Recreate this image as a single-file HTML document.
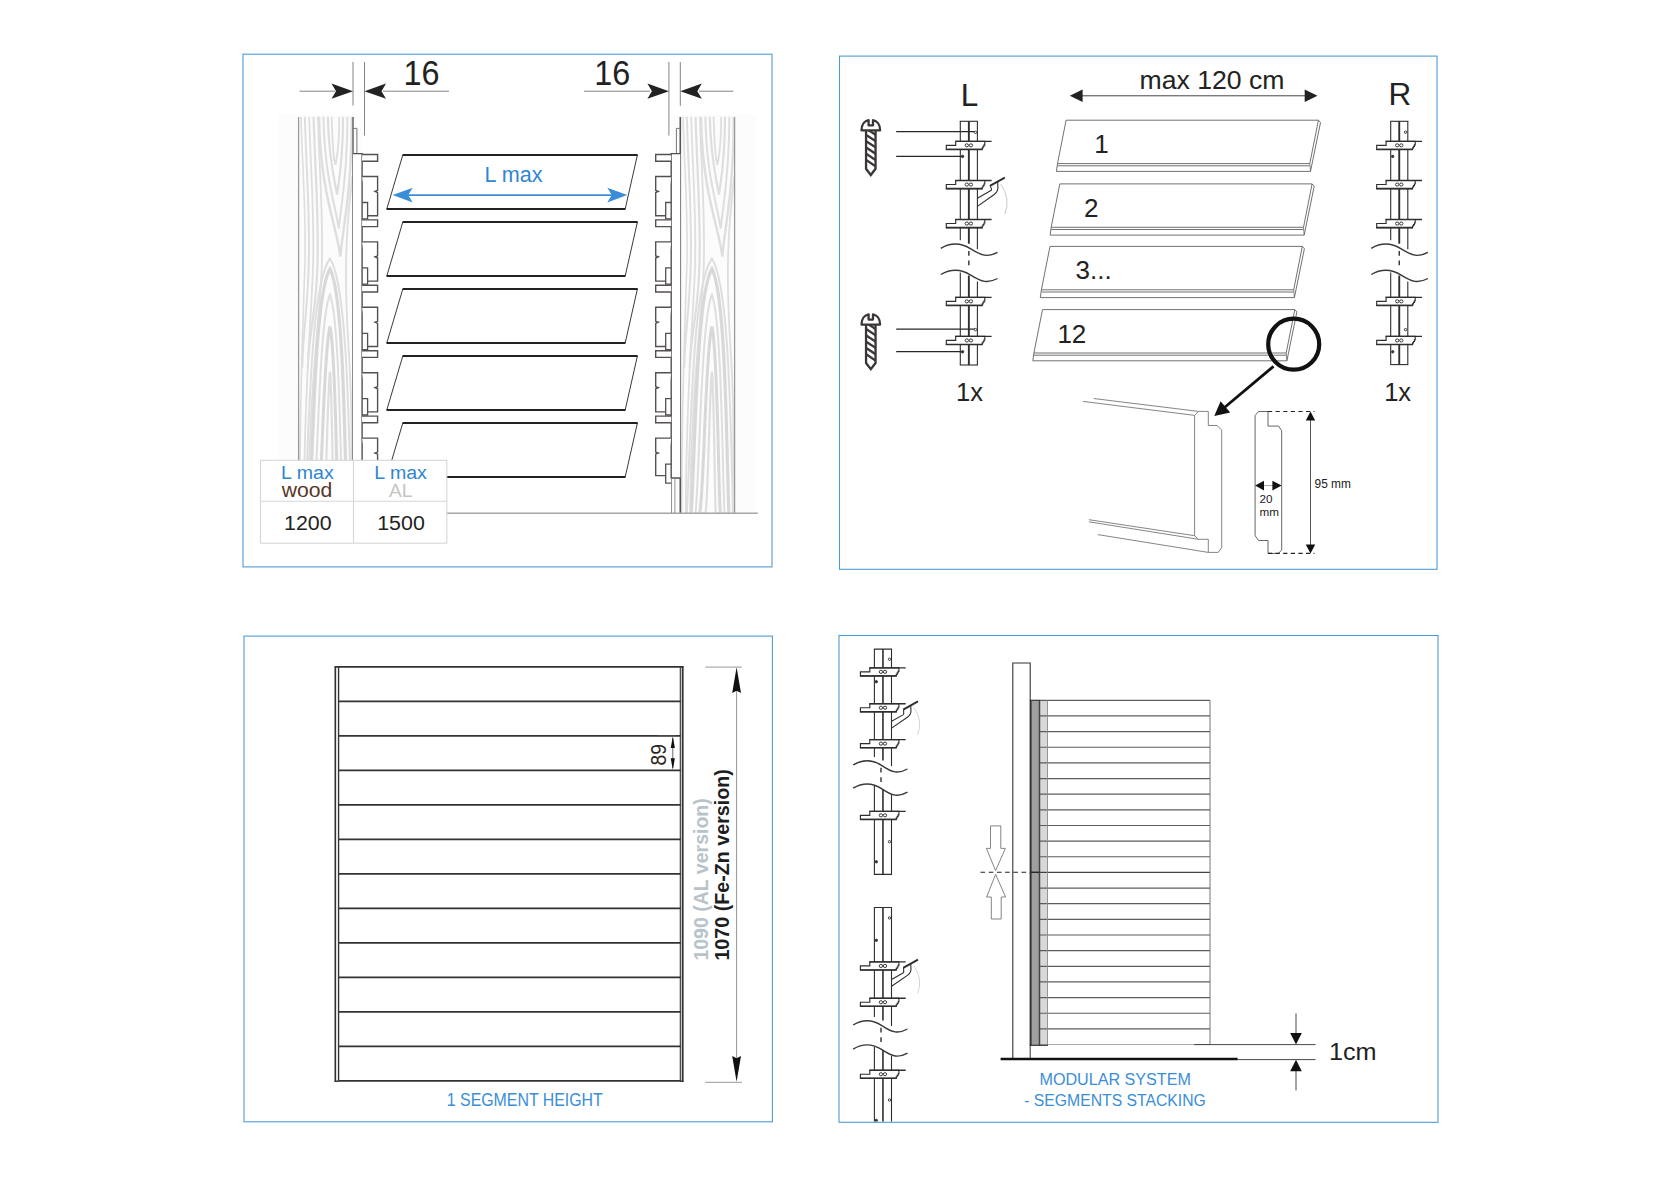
<!DOCTYPE html>
<html><head><meta charset="utf-8"><title>Assembly drawing</title>
<style>
html,body{margin:0;padding:0;background:#fff;}
body{width:1680px;height:1188px;overflow:hidden;}
svg{display:block;font-family:"Liberation Sans",sans-serif;}
</style></head><body>
<svg width="1680" height="1188" viewBox="0 0 1680 1188">
<rect width="1680" height="1188" fill="#fff"/>
<rect x="243" y="54.2" width="529" height="512.7" fill="#fff" stroke="#4e99d4" stroke-width="1.08" />
<rect x="839.5" y="56.1" width="597.5" height="513.2" fill="#fff" stroke="#4e99d4" stroke-width="1.08" />
<rect x="244" y="636.1" width="528.4" height="485.7" fill="#fff" stroke="#4e99d4" stroke-width="1.08" />
<rect x="839" y="635.5" width="599" height="486.8" fill="#fff" stroke="#4e99d4" stroke-width="1.08" />
<g id="p1">
<rect x="278.3" y="114.7" width="83.6" height="398.3" fill="#fcfcfc" stroke="none" stroke-width="0" />
<clipPath id="wc298"><rect x="298.3" y="116.7" width="54.6" height="396.3"/></clipPath>
<g clip-path="url(#wc298)" fill="none" stroke-linecap="round">
<path d="M301.03,116.7 C302.67,176.7 306.49,216.7 304.85,266.7 S299.8,386.7 299.67,513" stroke="#dedede" stroke-width="1.6"/>
<path d="M304.85,116.7 C306.49,176.7 310.31,216.7 308.67,266.7 S302.89,331.7 302.36,366.7" stroke="#dedede" stroke-width="2.0"/>
<path d="M309.22,116.7 C310.86,176.7 314.68,216.7 313.04,266.7 S304.31,386.7 303.76,513" stroke="#dedede" stroke-width="1.8"/>
<path d="M313.59,116.7 C315.23,176.7 319.05,216.7 317.41,266.7 S309,331.7 307.78,366.7" stroke="#dedede" stroke-width="2.2"/>
<path d="M317.96,116.7 C319.59,176.7 323.42,216.7 321.78,266.7 S309.11,386.7 308.13,513" stroke="#dedede" stroke-width="1.8"/>
<path d="M331.61,116.7 C332.7,143.1 332.7,155.1 335.43,164.7 C337.61,155.1 339.25,143.1 339.25,116.7" stroke="#dedede" stroke-width="1.8"/>
<path d="M327.78,116.7 C328.88,159.6 334.34,179.1 337.07,194.7 C339.25,179.1 343.07,159.6 343.07,116.7" stroke="#dedede" stroke-width="2.2"/>
<path d="M323.42,116.7 C324.51,178.3 335.97,206.3 338.7,228.7 C340.89,206.3 347.44,178.3 347.44,116.7" stroke="#dedede" stroke-width="2.0"/>
<path d="M319.05,116.7 C320.14,193.7 337.61,228.7 340.34,256.7 C342.53,228.7 351.81,193.7 351.81,116.7" stroke="#dedede" stroke-width="2.4"/>
<path d="M352.35,176.7 C345.26,236.7 344.16,276.7 348.53,346.7 S351.26,446.7 350.72,513" stroke="#dedede" stroke-width="1.8"/>
<path d="M304.85,513 C309.22,428.7 310.31,284.7 329.97,258.7 C347.66,284.7 348.64,428.7 351.26,513" stroke="#dedede" stroke-width="2.0"/>
<path d="M309.22,513 C313.59,438.7 314.68,294.7 329.97,268.7 C343.73,294.7 344.49,438.7 346.89,513" stroke="#d8d8d8" stroke-width="3.2"/>
<path d="M313.59,513 C317.96,464.7 319.05,320.7 329.97,294.7 C339.8,320.7 340.34,464.7 342.53,513" stroke="#dedede" stroke-width="2.0"/>
<path d="M317.68,513 C322.05,496.7 323.14,352.7 329.97,326.7 C336.11,352.7 336.45,496.7 338.43,513" stroke="#d8d8d8" stroke-width="3.0"/>
<path d="M321.5,513 C325.87,541.7 326.96,397.7 329.97,371.7 C332.67,397.7 332.82,541.7 334.61,513" stroke="#dedede" stroke-width="2.2"/>
</g>
<rect x="671.3" y="114.7" width="84.5" height="398.3" fill="#fcfcfc" stroke="none" stroke-width="0" />
<clipPath id="wc680"><rect x="680.3" y="116.7" width="54.5" height="396.3"/></clipPath>
<g clip-path="url(#wc680)" fill="none" stroke-linecap="round">
<path d="M683.02,116.7 C684.66,176.7 688.47,216.7 686.84,266.7 S681.8,386.7 681.66,513" stroke="#dedede" stroke-width="1.6"/>
<path d="M686.84,116.7 C688.47,176.7 692.29,216.7 690.65,266.7 S684.88,331.7 684.35,366.7" stroke="#dedede" stroke-width="2.0"/>
<path d="M691.2,116.7 C692.83,176.7 696.65,216.7 695.01,266.7 S686.29,386.7 685.75,513" stroke="#dedede" stroke-width="1.8"/>
<path d="M695.56,116.7 C697.19,176.7 701.01,216.7 699.38,266.7 S690.98,331.7 689.76,366.7" stroke="#dedede" stroke-width="2.2"/>
<path d="M699.92,116.7 C701.55,176.7 705.37,216.7 703.73,266.7 S691.09,386.7 690.11,513" stroke="#dedede" stroke-width="1.8"/>
<path d="M713.54,116.7 C714.63,143.1 714.63,155.1 717.36,164.7 C719.54,155.1 721.17,143.1 721.17,116.7" stroke="#dedede" stroke-width="1.8"/>
<path d="M709.73,116.7 C710.82,159.6 716.27,179.1 719,194.7 C721.17,179.1 724.99,159.6 724.99,116.7" stroke="#dedede" stroke-width="2.2"/>
<path d="M705.37,116.7 C706.46,178.3 717.9,206.3 720.63,228.7 C722.81,206.3 729.35,178.3 729.35,116.7" stroke="#dedede" stroke-width="2.0"/>
<path d="M701.01,116.7 C702.1,193.7 719.54,228.7 722.26,256.7 C724.44,228.7 733.71,193.7 733.71,116.7" stroke="#dedede" stroke-width="2.4"/>
<path d="M734.25,176.7 C727.17,236.7 726.08,276.7 730.44,346.7 S733.16,446.7 732.62,513" stroke="#dedede" stroke-width="1.8"/>
<path d="M686.84,513 C691.2,428.7 692.29,284.7 711.91,258.7 C729.57,284.7 730.55,428.7 733.16,513" stroke="#dedede" stroke-width="2.0"/>
<path d="M691.2,513 C695.56,438.7 696.65,294.7 711.91,268.7 C725.64,294.7 726.41,438.7 728.8,513" stroke="#d8d8d8" stroke-width="3.2"/>
<path d="M695.56,513 C699.92,464.7 701.01,320.7 711.91,294.7 C721.72,320.7 722.26,464.7 724.44,513" stroke="#dedede" stroke-width="2.0"/>
<path d="M699.65,513 C704.01,496.7 705.1,352.7 711.91,326.7 C718.04,352.7 718.38,496.7 720.36,513" stroke="#d8d8d8" stroke-width="3.0"/>
<path d="M703.46,513 C707.82,541.7 708.91,397.7 711.91,371.7 C714.61,397.7 714.76,541.7 716.54,513" stroke="#dedede" stroke-width="2.2"/>
</g>
<line x1="298.6" y1="117" x2="298.6" y2="513" stroke="#9a9a9a" stroke-width="1.3" />
<line x1="353" y1="117" x2="353" y2="513" stroke="#666" stroke-width="1.5" />
<line x1="680.3" y1="117" x2="680.3" y2="513" stroke="#555" stroke-width="1.6" />
<line x1="734.6" y1="117" x2="734.6" y2="513" stroke="#9a9a9a" stroke-width="1.3" />
<line x1="446.8" y1="513.2" x2="757.8" y2="513.2" stroke="#a6a6a6" stroke-width="1.5" />
<line x1="353" y1="62" x2="353" y2="105.5" stroke="#777" stroke-width="0.9" />
<line x1="364.5" y1="62" x2="364.5" y2="135.6" stroke="#777" stroke-width="0.9" />
<line x1="668.9" y1="62" x2="668.9" y2="135.6" stroke="#777" stroke-width="0.9" />
<line x1="680.3" y1="62" x2="680.3" y2="105.8" stroke="#777" stroke-width="0.9" />
<line x1="299.5" y1="91.2" x2="335" y2="91.2" stroke="#777" stroke-width="0.9" />
<line x1="383" y1="91.2" x2="449" y2="91.2" stroke="#777" stroke-width="0.9" />
<line x1="584" y1="91.2" x2="650" y2="91.2" stroke="#777" stroke-width="0.9" />
<line x1="699" y1="91.2" x2="733.3" y2="91.2" stroke="#777" stroke-width="0.9" />
<polygon points="353,91.2 331.5,83.6 336,91.2 331.5,98.8" fill="#222" stroke="none" stroke-width="0" />
<polygon points="364.5,91.2 386,83.6 381.5,91.2 386,98.8" fill="#222" stroke="none" stroke-width="0" />
<polygon points="668.9,91.2 647.4,83.6 651.9,91.2 647.4,98.8" fill="#222" stroke="none" stroke-width="0" />
<polygon points="680.3,91.2 701.8,83.6 697.3,91.2 701.8,98.8" fill="#222" stroke="none" stroke-width="0" />
<text x="403.5" y="85.2" font-size="35" fill="#222" textLength="36" lengthAdjust="spacingAndGlyphs" >16</text>
<text x="594.3" y="85.2" font-size="35" fill="#222" textLength="36" lengthAdjust="spacingAndGlyphs" >16</text>
<path d="M353,128.4 H356.9 V153.6" fill="none" stroke="#777" stroke-width="1" />
<path d="M353,153.6 H362.1 V478 H353" fill="#fff" stroke="#555050" stroke-width="1.4" />
<path d="M358.4,478 V513 M361.8,478 V513" fill="none" stroke="#888" stroke-width="0.9" />
<path d="M362.1,154.5 H377.6 V161.2 H362.1" fill="#fff" stroke="#555050" stroke-width="1.4" />
<path d="M362.1,176.5 H377.6 V190.5 l-2.6,0.9 l2.6,1.2 V215.7 H367.6" fill="#fff" stroke="#555050" stroke-width="1.4" />
<path d="M362.1,202.5 H367.6 V218.8 H362.1" fill="none" stroke="#555050" stroke-width="1.3" />
<path d="M362.1,219.9 H377.6 V226.6 H362.1" fill="#fff" stroke="#555050" stroke-width="1.4" />
<path d="M362.1,241.9 H377.6 V255.9 l-2.6,0.9 l2.6,1.2 V281.1 H367.6" fill="#fff" stroke="#555050" stroke-width="1.4" />
<path d="M362.1,267.9 H367.6 V284.2 H362.1" fill="none" stroke="#555050" stroke-width="1.3" />
<path d="M362.1,285.3 H377.6 V292 H362.1" fill="#fff" stroke="#555050" stroke-width="1.4" />
<path d="M362.1,307.3 H377.6 V321.3 l-2.6,0.9 l2.6,1.2 V346.5 H367.6" fill="#fff" stroke="#555050" stroke-width="1.4" />
<path d="M362.1,333.3 H367.6 V349.6 H362.1" fill="none" stroke="#555050" stroke-width="1.3" />
<path d="M362.1,350.7 H377.6 V357.4 H362.1" fill="#fff" stroke="#555050" stroke-width="1.4" />
<path d="M362.1,372.7 H377.6 V386.7 l-2.6,0.9 l2.6,1.2 V411.9 H367.6" fill="#fff" stroke="#555050" stroke-width="1.4" />
<path d="M362.1,398.7 H367.6 V415 H362.1" fill="none" stroke="#555050" stroke-width="1.3" />
<path d="M362.1,416.1 H377.6 V422.8 H362.1" fill="#fff" stroke="#555050" stroke-width="1.4" />
<path d="M362.1,438.1 H377.6 V452.1 l-2.6,0.9 l2.6,1.2 V475.6 H367.6" fill="#fff" stroke="#555050" stroke-width="1.4" />
<path d="M362.1,464.1 H367.6 V483.1 H362.1" fill="none" stroke="#555050" stroke-width="1.3" />
<path d="M680.3,128.4 H676.4 V153.6" fill="none" stroke="#777" stroke-width="1" />
<path d="M680.3,153.6 H671.2 V478 H680.3" fill="#fff" stroke="#555050" stroke-width="1.4" />
<path d="M674.9,478 V513 M671.5,478 V513" fill="none" stroke="#888" stroke-width="0.9" />
<path d="M671.2,154.5 H655.7 V161.2 H671.2" fill="#fff" stroke="#555050" stroke-width="1.4" />
<path d="M671.2,176.5 H655.7 V190.5 l2.6,0.9 l-2.6,1.2 V215.7 H665.7" fill="#fff" stroke="#555050" stroke-width="1.4" />
<path d="M671.2,202.5 H665.7 V218.8 H671.2" fill="none" stroke="#555050" stroke-width="1.3" />
<path d="M671.2,219.9 H655.7 V226.6 H671.2" fill="#fff" stroke="#555050" stroke-width="1.4" />
<path d="M671.2,241.9 H655.7 V255.9 l2.6,0.9 l-2.6,1.2 V281.1 H665.7" fill="#fff" stroke="#555050" stroke-width="1.4" />
<path d="M671.2,267.9 H665.7 V284.2 H671.2" fill="none" stroke="#555050" stroke-width="1.3" />
<path d="M671.2,285.3 H655.7 V292 H671.2" fill="#fff" stroke="#555050" stroke-width="1.4" />
<path d="M671.2,307.3 H655.7 V321.3 l2.6,0.9 l-2.6,1.2 V346.5 H665.7" fill="#fff" stroke="#555050" stroke-width="1.4" />
<path d="M671.2,333.3 H665.7 V349.6 H671.2" fill="none" stroke="#555050" stroke-width="1.3" />
<path d="M671.2,350.7 H655.7 V357.4 H671.2" fill="#fff" stroke="#555050" stroke-width="1.4" />
<path d="M671.2,372.7 H655.7 V386.7 l2.6,0.9 l-2.6,1.2 V411.9 H665.7" fill="#fff" stroke="#555050" stroke-width="1.4" />
<path d="M671.2,398.7 H665.7 V415 H671.2" fill="none" stroke="#555050" stroke-width="1.3" />
<path d="M671.2,416.1 H655.7 V422.8 H671.2" fill="#fff" stroke="#555050" stroke-width="1.4" />
<path d="M671.2,438.1 H655.7 V452.1 l2.6,0.9 l-2.6,1.2 V475.6 H665.7" fill="#fff" stroke="#555050" stroke-width="1.4" />
<path d="M671.2,464.1 H665.7 V483.1 H671.2" fill="none" stroke="#555050" stroke-width="1.3" />
<polygon points="402.8,155 637.4,155 625.2,209 386.8,209" fill="#fff" stroke="#222" stroke-width="0.9" />
<line x1="402.6" y1="155" x2="637.6" y2="155" stroke="#222" stroke-width="1.8" />
<line x1="386.6" y1="209" x2="625.4" y2="209" stroke="#222" stroke-width="1.8" />
<polygon points="402.8,222 637.4,222 625.2,276 386.8,276" fill="#fff" stroke="#222" stroke-width="0.9" />
<line x1="402.6" y1="222" x2="637.6" y2="222" stroke="#222" stroke-width="1.8" />
<line x1="386.6" y1="276" x2="625.4" y2="276" stroke="#222" stroke-width="1.8" />
<polygon points="402.8,289 637.4,289 625.2,343 386.8,343" fill="#fff" stroke="#222" stroke-width="0.9" />
<line x1="402.6" y1="289" x2="637.6" y2="289" stroke="#222" stroke-width="1.8" />
<line x1="386.6" y1="343" x2="625.4" y2="343" stroke="#222" stroke-width="1.8" />
<polygon points="402.8,356 637.4,356 625.2,410 386.8,410" fill="#fff" stroke="#222" stroke-width="0.9" />
<line x1="402.6" y1="356" x2="637.6" y2="356" stroke="#222" stroke-width="1.8" />
<line x1="386.6" y1="410" x2="625.4" y2="410" stroke="#222" stroke-width="1.8" />
<polygon points="402.8,423 637.4,423 625.2,477 386.8,477" fill="#fff" stroke="#222" stroke-width="0.9" />
<line x1="402.6" y1="423" x2="637.6" y2="423" stroke="#222" stroke-width="1.8" />
<line x1="386.6" y1="477" x2="625.4" y2="477" stroke="#222" stroke-width="1.8" />
<line x1="405" y1="195.1" x2="615" y2="195.1" stroke="#3a8ed8" stroke-width="1.7" />
<polygon points="392.7,195.1 412.7,187.8 408.2,195.1 412.7,202.4" fill="#3a8ed8" stroke="none" stroke-width="0" />
<polygon points="627.3,195.1 607.3,187.8 611.8,195.1 607.3,202.4" fill="#3a8ed8" stroke="none" stroke-width="0" />
<text x="513.6" y="181.6" font-size="22" fill="#2f86d2" text-anchor="middle" textLength="58" lengthAdjust="spacingAndGlyphs" >L max</text>
<rect x="260.5" y="460.3" width="186.3" height="82.9" fill="#fff" stroke="#d6d6d6" stroke-width="1.1" />
<line x1="353.5" y1="460.3" x2="353.5" y2="543.2" stroke="#d6d6d6" stroke-width="1.1" />
<line x1="260.5" y1="501.3" x2="446.8" y2="501.3" stroke="#d6d6d6" stroke-width="1.1" />
<text x="307.4" y="478.9" font-size="19.2" fill="#2f86d2" text-anchor="middle" textLength="52.6" lengthAdjust="spacingAndGlyphs" >L max</text>
<text x="400.6" y="478.9" font-size="19.2" fill="#2f86d2" text-anchor="middle" textLength="52.6" lengthAdjust="spacingAndGlyphs" >L max</text>
<text x="307" y="497" font-size="20.5" fill="#5a3626" text-anchor="middle" textLength="50.6" lengthAdjust="spacingAndGlyphs" >wood</text>
<text x="400.6" y="497" font-size="19" fill="#c9c3c3" text-anchor="middle" textLength="23.4" lengthAdjust="spacingAndGlyphs" >AL</text>
<text x="307.8" y="529.7" font-size="19.3" fill="#222" text-anchor="middle" textLength="47.6" lengthAdjust="spacingAndGlyphs" >1200</text>
<text x="401" y="529.7" font-size="19.3" fill="#222" text-anchor="middle" textLength="47.6" lengthAdjust="spacingAndGlyphs" >1500</text>
</g>
<g id="p2">
<text x="960.8" y="105.8" font-size="31.5" fill="#222" >L</text>
<text x="1388.6" y="105" font-size="31.5" fill="#222" >R</text>
<g transform="translate(870.8,118.8)">
<path d="M-4.75,12 V50.0 L0,56.2 L4.75,50.0 V12" fill="#fff" stroke="#3a3636" stroke-width="2.3" stroke-linejoin="miter"/>
<clipPath id="sc118"><path d="M-4.75,12 V50.0 L0,56.2 L4.75,50.0 V12 Z"/></clipPath>
<g clip-path="url(#sc118)">
<line x1="-5.5" y1="9.2" x2="5.5" y2="16.5" stroke="#3a3636" stroke-width="2.3" />
<line x1="-5.5" y1="15.5" x2="5.5" y2="22.8" stroke="#3a3636" stroke-width="2.3" />
<line x1="-5.5" y1="21.8" x2="5.5" y2="29.1" stroke="#3a3636" stroke-width="2.3" />
<line x1="-5.5" y1="28.1" x2="5.5" y2="35.4" stroke="#3a3636" stroke-width="2.3" />
<line x1="-5.5" y1="34.4" x2="5.5" y2="41.7" stroke="#3a3636" stroke-width="2.3" />
<line x1="-5.5" y1="40.7" x2="5.5" y2="48" stroke="#3a3636" stroke-width="2.3" />
</g>
<path d="M-9.3,11.6 C-9.3,5.4 -6.0,1.9 -2.2,1.3 V6.6 H2.2 V1.3 C6.0,1.9 9.3,5.4 9.3,11.6 Z" fill="#fff" stroke="#3a3636" stroke-width="2.3" stroke-linejoin="round"/>
</g>
<g transform="translate(870.8,313)">
<path d="M-4.75,12 V50.0 L0,56.2 L4.75,50.0 V12" fill="#fff" stroke="#3a3636" stroke-width="2.3" stroke-linejoin="miter"/>
<clipPath id="sc313"><path d="M-4.75,12 V50.0 L0,56.2 L4.75,50.0 V12 Z"/></clipPath>
<g clip-path="url(#sc313)">
<line x1="-5.5" y1="9.2" x2="5.5" y2="16.5" stroke="#3a3636" stroke-width="2.3" />
<line x1="-5.5" y1="15.5" x2="5.5" y2="22.8" stroke="#3a3636" stroke-width="2.3" />
<line x1="-5.5" y1="21.8" x2="5.5" y2="29.1" stroke="#3a3636" stroke-width="2.3" />
<line x1="-5.5" y1="28.1" x2="5.5" y2="35.4" stroke="#3a3636" stroke-width="2.3" />
<line x1="-5.5" y1="34.4" x2="5.5" y2="41.7" stroke="#3a3636" stroke-width="2.3" />
<line x1="-5.5" y1="40.7" x2="5.5" y2="48" stroke="#3a3636" stroke-width="2.3" />
</g>
<path d="M-9.3,11.6 C-9.3,5.4 -6.0,1.9 -2.2,1.3 V6.6 H2.2 V1.3 C6.0,1.9 9.3,5.4 9.3,11.6 Z" fill="#fff" stroke="#3a3636" stroke-width="2.3" stroke-linejoin="round"/>
</g>
<line x1="896.2" y1="131.7" x2="975" y2="131.7" stroke="#262626" stroke-width="1.3" />
<line x1="896.2" y1="156.3" x2="962" y2="156.3" stroke="#262626" stroke-width="1.3" />
<line x1="896.2" y1="329.2" x2="975" y2="329.2" stroke="#262626" stroke-width="1.3" />
<line x1="896.2" y1="351.7" x2="962" y2="351.7" stroke="#262626" stroke-width="1.3" />
<line x1="960.3" y1="121.3" x2="960.3" y2="240.3" stroke="#2e2e2e" stroke-width="1.1" />
<line x1="968.85" y1="121.3" x2="968.85" y2="243.7" stroke="#2e2e2e" stroke-width="1.9" />
<line x1="977.4" y1="121.3" x2="977.4" y2="249.2" stroke="#2e2e2e" stroke-width="1.1" />
<line x1="960.3" y1="272.4" x2="960.3" y2="365" stroke="#2e2e2e" stroke-width="1.1" />
<line x1="968.85" y1="275.5" x2="968.85" y2="365" stroke="#2e2e2e" stroke-width="1.9" />
<line x1="977.4" y1="281.4" x2="977.4" y2="365" stroke="#2e2e2e" stroke-width="1.1" />
<line x1="959.8" y1="121.3" x2="977.9" y2="121.3" stroke="#2e2e2e" stroke-width="1.1" />
<line x1="959.8" y1="365" x2="977.9" y2="365" stroke="#2e2e2e" stroke-width="1.1" />
<path d="M940.8,248.3 c9,-5.2 19,-6.4 30,0.6 s17,8.6 26.7,3.4" fill="none" stroke="#3a3a3a" stroke-width="1.4" />
<path d="M940.8,274.5 c9,-5.2 19,-6.4 30,0.6 s17,8.6 26.7,3.4" fill="none" stroke="#3a3a3a" stroke-width="1.4" />
<line x1="968.85" y1="251" x2="968.85" y2="265.3" stroke="#2e2e2e" stroke-width="1.4" stroke-dasharray="4.7 4.8"/>
<path d="M955.7,141.3 V145.3 H946.3 V149.4 H982.2 V147.8 h0.9 V146.4 h0.9 V144.8 h0.8 V141.3 Z" fill="#fff" stroke="#2e2e2e" stroke-width="1.15" />
<line x1="955.2" y1="141.3" x2="991.6" y2="141.3" stroke="#2e2e2e" stroke-width="1.35" />
<line x1="945.9" y1="149.4" x2="982.6" y2="149.4" stroke="#2e2e2e" stroke-width="1.55" />
<ellipse cx="966.8" cy="145.35" rx="1.7" ry="1.55" fill="none" stroke="#2e2e2e" stroke-width="0.95"/>
<ellipse cx="970.9" cy="145.35" rx="1.7" ry="1.55" fill="none" stroke="#2e2e2e" stroke-width="0.95"/>
<path d="M955.7,180.5 V184.5 H946.3 V188.6 H982.2 V187 h0.9 V185.6 h0.9 V184 h0.8 V180.5 Z" fill="#fff" stroke="#2e2e2e" stroke-width="1.15" />
<line x1="955.2" y1="180.5" x2="991.6" y2="180.5" stroke="#2e2e2e" stroke-width="1.35" />
<line x1="945.9" y1="188.6" x2="982.6" y2="188.6" stroke="#2e2e2e" stroke-width="1.55" />
<ellipse cx="966.8" cy="184.55" rx="1.7" ry="1.55" fill="none" stroke="#2e2e2e" stroke-width="0.95"/>
<ellipse cx="970.9" cy="184.55" rx="1.7" ry="1.55" fill="none" stroke="#2e2e2e" stroke-width="0.95"/>
<path d="M955.7,219.5 V223.5 H946.3 V227.6 H982.2 V226 h0.9 V224.6 h0.9 V223 h0.8 V219.5 Z" fill="#fff" stroke="#2e2e2e" stroke-width="1.15" />
<line x1="955.2" y1="219.5" x2="991.6" y2="219.5" stroke="#2e2e2e" stroke-width="1.35" />
<line x1="945.9" y1="227.6" x2="982.6" y2="227.6" stroke="#2e2e2e" stroke-width="1.55" />
<ellipse cx="966.8" cy="223.55" rx="1.7" ry="1.55" fill="none" stroke="#2e2e2e" stroke-width="0.95"/>
<ellipse cx="970.9" cy="223.55" rx="1.7" ry="1.55" fill="none" stroke="#2e2e2e" stroke-width="0.95"/>
<path d="M955.7,297.3 V301.3 H946.3 V305.4 H982.2 V303.8 h0.9 V302.4 h0.9 V300.8 h0.8 V297.3 Z" fill="#fff" stroke="#2e2e2e" stroke-width="1.15" />
<line x1="955.2" y1="297.3" x2="991.6" y2="297.3" stroke="#2e2e2e" stroke-width="1.35" />
<line x1="945.9" y1="305.4" x2="982.6" y2="305.4" stroke="#2e2e2e" stroke-width="1.55" />
<ellipse cx="966.8" cy="301.35" rx="1.7" ry="1.55" fill="none" stroke="#2e2e2e" stroke-width="0.95"/>
<ellipse cx="970.9" cy="301.35" rx="1.7" ry="1.55" fill="none" stroke="#2e2e2e" stroke-width="0.95"/>
<path d="M955.7,336.4 V340.4 H946.3 V344.5 H982.2 V342.9 h0.9 V341.5 h0.9 V339.9 h0.8 V336.4 Z" fill="#fff" stroke="#2e2e2e" stroke-width="1.15" />
<line x1="955.2" y1="336.4" x2="991.6" y2="336.4" stroke="#2e2e2e" stroke-width="1.35" />
<line x1="945.9" y1="344.5" x2="982.6" y2="344.5" stroke="#2e2e2e" stroke-width="1.55" />
<ellipse cx="966.8" cy="340.45" rx="1.7" ry="1.55" fill="none" stroke="#2e2e2e" stroke-width="0.95"/>
<ellipse cx="970.9" cy="340.45" rx="1.7" ry="1.55" fill="none" stroke="#2e2e2e" stroke-width="0.95"/>
<path d="M977.4,198.3 L990.9,190.6 Q991.9,190 991.5,189.1 L990.3,186.1" fill="none" stroke="#2e2e2e" stroke-width="1.1" />
<path d="M977.4,206.4 L993.9,194.8 Q997.9,191.7 997.9,187.5 L997.7,181.9" fill="none" stroke="#2e2e2e" stroke-width="1.1" />
<line x1="989.9" y1="185.8" x2="1004.8" y2="177.6" stroke="#2e2e2e" stroke-width="1.9" />
<path d="M1000.7,184.1 Q1010.8,198.5 1004.9,214" fill="none" stroke="#b0b0b0" stroke-width="0.7" />
<circle cx="975.5" cy="132.4" r="1.2" fill="#fff" stroke="#333" stroke-width="0.95"/>
<circle cx="962.6" cy="156.4" r="1.2" fill="#333" stroke="#333" stroke-width="0.95"/>
<circle cx="975.5" cy="329.6" r="1.2" fill="#fff" stroke="#333" stroke-width="0.95"/>
<circle cx="962.6" cy="351.8" r="1.2" fill="#333" stroke="#333" stroke-width="0.95"/>
<line x1="1390.7" y1="121.3" x2="1390.7" y2="240.3" stroke="#2e2e2e" stroke-width="1.1" />
<line x1="1399.25" y1="121.3" x2="1399.25" y2="243.7" stroke="#2e2e2e" stroke-width="1.9" />
<line x1="1407.8" y1="121.3" x2="1407.8" y2="249.2" stroke="#2e2e2e" stroke-width="1.1" />
<line x1="1390.7" y1="272.4" x2="1390.7" y2="364.6" stroke="#2e2e2e" stroke-width="1.1" />
<line x1="1399.25" y1="275.5" x2="1399.25" y2="364.6" stroke="#2e2e2e" stroke-width="1.9" />
<line x1="1407.8" y1="281.4" x2="1407.8" y2="364.6" stroke="#2e2e2e" stroke-width="1.1" />
<line x1="1390.2" y1="121.3" x2="1408.3" y2="121.3" stroke="#2e2e2e" stroke-width="1.1" />
<line x1="1390.2" y1="364.6" x2="1408.3" y2="364.6" stroke="#2e2e2e" stroke-width="1.1" />
<path d="M1371.2,248.3 c9,-5.2 19,-6.4 30,0.6 s17,8.6 26.7,3.4" fill="none" stroke="#3a3a3a" stroke-width="1.4" />
<path d="M1371.2,274.5 c9,-5.2 19,-6.4 30,0.6 s17,8.6 26.7,3.4" fill="none" stroke="#3a3a3a" stroke-width="1.4" />
<line x1="1399.25" y1="251" x2="1399.25" y2="265.3" stroke="#2e2e2e" stroke-width="1.4" stroke-dasharray="4.7 4.8"/>
<path d="M1386.1,141.3 V145.3 H1376.7 V149.4 H1412.6 V147.8 h0.9 V146.4 h0.9 V144.8 h0.8 V141.3 Z" fill="#fff" stroke="#2e2e2e" stroke-width="1.15" />
<line x1="1385.6" y1="141.3" x2="1422" y2="141.3" stroke="#2e2e2e" stroke-width="1.35" />
<line x1="1376.3" y1="149.4" x2="1413" y2="149.4" stroke="#2e2e2e" stroke-width="1.55" />
<ellipse cx="1397.2" cy="145.35" rx="1.7" ry="1.55" fill="none" stroke="#2e2e2e" stroke-width="0.95"/>
<ellipse cx="1401.3" cy="145.35" rx="1.7" ry="1.55" fill="none" stroke="#2e2e2e" stroke-width="0.95"/>
<path d="M1386.1,180.5 V184.5 H1376.7 V188.6 H1412.6 V187 h0.9 V185.6 h0.9 V184 h0.8 V180.5 Z" fill="#fff" stroke="#2e2e2e" stroke-width="1.15" />
<line x1="1385.6" y1="180.5" x2="1422" y2="180.5" stroke="#2e2e2e" stroke-width="1.35" />
<line x1="1376.3" y1="188.6" x2="1413" y2="188.6" stroke="#2e2e2e" stroke-width="1.55" />
<ellipse cx="1397.2" cy="184.55" rx="1.7" ry="1.55" fill="none" stroke="#2e2e2e" stroke-width="0.95"/>
<ellipse cx="1401.3" cy="184.55" rx="1.7" ry="1.55" fill="none" stroke="#2e2e2e" stroke-width="0.95"/>
<path d="M1386.1,219.5 V223.5 H1376.7 V227.6 H1412.6 V226 h0.9 V224.6 h0.9 V223 h0.8 V219.5 Z" fill="#fff" stroke="#2e2e2e" stroke-width="1.15" />
<line x1="1385.6" y1="219.5" x2="1422" y2="219.5" stroke="#2e2e2e" stroke-width="1.35" />
<line x1="1376.3" y1="227.6" x2="1413" y2="227.6" stroke="#2e2e2e" stroke-width="1.55" />
<ellipse cx="1397.2" cy="223.55" rx="1.7" ry="1.55" fill="none" stroke="#2e2e2e" stroke-width="0.95"/>
<ellipse cx="1401.3" cy="223.55" rx="1.7" ry="1.55" fill="none" stroke="#2e2e2e" stroke-width="0.95"/>
<path d="M1386.1,297.3 V301.3 H1376.7 V305.4 H1412.6 V303.8 h0.9 V302.4 h0.9 V300.8 h0.8 V297.3 Z" fill="#fff" stroke="#2e2e2e" stroke-width="1.15" />
<line x1="1385.6" y1="297.3" x2="1422" y2="297.3" stroke="#2e2e2e" stroke-width="1.35" />
<line x1="1376.3" y1="305.4" x2="1413" y2="305.4" stroke="#2e2e2e" stroke-width="1.55" />
<ellipse cx="1397.2" cy="301.35" rx="1.7" ry="1.55" fill="none" stroke="#2e2e2e" stroke-width="0.95"/>
<ellipse cx="1401.3" cy="301.35" rx="1.7" ry="1.55" fill="none" stroke="#2e2e2e" stroke-width="0.95"/>
<path d="M1386.1,336.4 V340.4 H1376.7 V344.5 H1412.6 V342.9 h0.9 V341.5 h0.9 V339.9 h0.8 V336.4 Z" fill="#fff" stroke="#2e2e2e" stroke-width="1.15" />
<line x1="1385.6" y1="336.4" x2="1422" y2="336.4" stroke="#2e2e2e" stroke-width="1.35" />
<line x1="1376.3" y1="344.5" x2="1413" y2="344.5" stroke="#2e2e2e" stroke-width="1.55" />
<ellipse cx="1397.2" cy="340.45" rx="1.7" ry="1.55" fill="none" stroke="#2e2e2e" stroke-width="0.95"/>
<ellipse cx="1401.3" cy="340.45" rx="1.7" ry="1.55" fill="none" stroke="#2e2e2e" stroke-width="0.95"/>
<circle cx="1405.5" cy="132.2" r="1.2" fill="#fff" stroke="#333" stroke-width="0.95"/>
<circle cx="1392.7" cy="156.4" r="1.2" fill="#333" stroke="#333" stroke-width="0.95"/>
<circle cx="1405.5" cy="329.6" r="1.2" fill="#fff" stroke="#333" stroke-width="0.95"/>
<circle cx="1392.7" cy="351.8" r="1.2" fill="#333" stroke="#333" stroke-width="0.95"/>
<text x="956" y="400.8" font-size="25.5" fill="#222" >1x</text>
<text x="1384.2" y="400.9" font-size="25.5" fill="#222" >1x</text>
<text x="1212" y="88.9" font-size="26.2" fill="#222" text-anchor="middle" textLength="145" lengthAdjust="spacingAndGlyphs" >max 120 cm</text>
<line x1="1080" y1="95.8" x2="1307" y2="95.8" stroke="#444" stroke-width="1.0" />
<polygon points="1069.8,95.8 1082.6,89.5 1082.6,102.1" fill="#222" stroke="none" stroke-width="0" />
<polygon points="1317.5,95.8 1304.7,89.5 1304.7,102.1" fill="#222" stroke="none" stroke-width="0" />
<polygon points="1066.1,120.2 1318.4,120.2 1309.8,163.6 1057.5,163.6" fill="#fff" stroke="#626262" stroke-width="0.9" />
<line x1="1057.5" y1="165.8" x2="1309.6" y2="165.8" stroke="#626262" stroke-width="0.9" />
<path d="M1057.5,163.6 L1056.4,171.4 H1310.5 L1320.5,122.5 L1318.4,120.2" fill="none" stroke="#626262" stroke-width="0.9" />
<line x1="1309.8" y1="163.6" x2="1310.5" y2="171.4" stroke="#626262" stroke-width="0.8" />
<polygon points="1059.8,183.9 1312.1,183.9 1303.5,227.3 1051.2,227.3" fill="#fff" stroke="#626262" stroke-width="0.9" />
<line x1="1051.2" y1="229.5" x2="1303.3" y2="229.5" stroke="#626262" stroke-width="0.9" />
<path d="M1051.2,227.3 L1050.1,235.1 H1304.2 L1314.2,186.2 L1312.1,183.9" fill="none" stroke="#626262" stroke-width="0.9" />
<line x1="1303.5" y1="227.3" x2="1304.2" y2="235.1" stroke="#626262" stroke-width="0.8" />
<polygon points="1050,246.4 1302.3,246.4 1293.7,289.8 1041.4,289.8" fill="#fff" stroke="#626262" stroke-width="0.9" />
<line x1="1041.4" y1="292" x2="1293.5" y2="292" stroke="#626262" stroke-width="0.9" />
<path d="M1041.4,289.8 L1040.3,297.6 H1294.4 L1304.4,248.7 L1302.3,246.4" fill="none" stroke="#626262" stroke-width="0.9" />
<line x1="1293.7" y1="289.8" x2="1294.4" y2="297.6" stroke="#626262" stroke-width="0.8" />
<polygon points="1042.5,309.6 1294.8,309.6 1286.2,353 1033.9,353" fill="#fff" stroke="#626262" stroke-width="0.9" />
<line x1="1033.9" y1="355.2" x2="1286" y2="355.2" stroke="#626262" stroke-width="0.9" />
<path d="M1033.9,353 L1032.8,360.8 H1286.9 L1296.9,311.9 L1294.8,309.6" fill="none" stroke="#626262" stroke-width="0.9" />
<line x1="1286.2" y1="353" x2="1286.9" y2="360.8" stroke="#626262" stroke-width="0.8" />
<text x="1094.3" y="152.7" font-size="26" fill="#222" >1</text>
<text x="1084" y="217.4" font-size="26" fill="#222" >2</text>
<text x="1075.6" y="279.3" font-size="26" fill="#222" >3...</text>
<text x="1057.4" y="343.4" font-size="26" fill="#222" >12</text>
<circle cx="1293.7" cy="344.2" r="25.5" fill="none" stroke="#111" stroke-width="4.2"/>
<line x1="1273.5" y1="366.4" x2="1223" y2="408.7" stroke="#111" stroke-width="2.8" />
<polygon points="1214.3,416 1220.6,401.2 1230.2,412.4" fill="#111" stroke="none" stroke-width="0" />
<path d="M1083,401.4 L1194.6,415.4 M1093.6,398.5 L1198.5,411.4" fill="none" stroke="#777" stroke-width="0.9" />
<path d="M1198.5,411.4 H1208.3 V425.5 H1217.0 L1221.7,430.0 V547.6 L1218.2,552.4 H1208.3 V539.3 H1198.5 L1194.6,535.7 V415.4 Z" fill="#fff" stroke="#777" stroke-width="0.9" />
<path d="M1088.9,519.7 L1194.6,535.7 M1088.9,521.8 L1198.5,539.3 M1097.8,534.6 L1208.3,552.4" fill="none" stroke="#777" stroke-width="0.9" />
<path d="M1255.1,415.5 L1258.6,411.5 H1268 V426.1 H1278.6 L1281.7,430.8 V549.9 L1278.6,553.4 H1268 V540.5 H1258.6 L1255.1,535.7 Z" fill="#fff" stroke="#555" stroke-width="0.9" />
<line x1="1268" y1="411.5" x2="1314.5" y2="411.5" stroke="#222" stroke-width="1.1" stroke-dasharray="4.2 3.4"/>
<line x1="1268" y1="553.4" x2="1314.5" y2="553.4" stroke="#222" stroke-width="1.1" stroke-dasharray="4.2 3.4"/>
<line x1="1310.5" y1="419" x2="1310.5" y2="546" stroke="#444" stroke-width="0.9" />
<polygon points="1310.5,411.5 1305.8,420.4 1315.2,420.4" fill="#111" stroke="none" stroke-width="0" />
<polygon points="1310.5,553.4 1305.8,544.5 1315.2,544.5" fill="#111" stroke="none" stroke-width="0" />
<line x1="1262" y1="485.6" x2="1275" y2="485.6" stroke="#999" stroke-width="0.9" />
<polygon points="1255.1,485.6 1264,480.8 1264,490.4" fill="#111" stroke="none" stroke-width="0" />
<polygon points="1281.6,485.6 1272.4,480.8 1272.4,490.4" fill="#111" stroke="none" stroke-width="0" />
<text x="1314.6" y="488.4" font-size="11.9" fill="#222" >95 mm</text>
<text x="1259.4" y="502.8" font-size="11.7" fill="#222" >20</text>
<text x="1259.4" y="515.6" font-size="11.7" fill="#222" >mm</text>
</g>
<g id="p3">
<rect x="335.3" y="666.7" width="3.3" height="414.3" fill="#f3f3f3" stroke="none" stroke-width="0" />
<rect x="680.3" y="666.7" width="2.4" height="414.3" fill="#eee" stroke="none" stroke-width="0" />
<line x1="338.5" y1="701.35" x2="680.8" y2="701.35" stroke="#353332" stroke-width="1.55" />
<line x1="338.5" y1="735.85" x2="680.8" y2="735.85" stroke="#353332" stroke-width="1.55" />
<line x1="338.5" y1="770.35" x2="680.8" y2="770.35" stroke="#353332" stroke-width="1.55" />
<line x1="338.5" y1="804.85" x2="680.8" y2="804.85" stroke="#353332" stroke-width="1.55" />
<line x1="338.5" y1="839.35" x2="680.8" y2="839.35" stroke="#353332" stroke-width="1.55" />
<line x1="338.5" y1="873.85" x2="680.8" y2="873.85" stroke="#353332" stroke-width="1.55" />
<line x1="338.5" y1="908.35" x2="680.8" y2="908.35" stroke="#353332" stroke-width="1.55" />
<line x1="338.5" y1="942.85" x2="680.8" y2="942.85" stroke="#353332" stroke-width="1.55" />
<line x1="338.5" y1="977.35" x2="680.8" y2="977.35" stroke="#353332" stroke-width="1.55" />
<line x1="338.5" y1="1011.85" x2="680.8" y2="1011.85" stroke="#353332" stroke-width="1.55" />
<line x1="338.5" y1="1046.35" x2="680.8" y2="1046.35" stroke="#353332" stroke-width="1.55" />
<line x1="338.5" y1="1080.85" x2="680.8" y2="1080.85" stroke="#353332" stroke-width="1.55" />
<line x1="334.6" y1="666.8" x2="683.5" y2="666.8" stroke="#353332" stroke-width="1.7" />
<line x1="335.3" y1="666.2" x2="335.3" y2="1081.8" stroke="#353332" stroke-width="1.6" />
<line x1="338.6" y1="666.2" x2="338.6" y2="1080.7" stroke="#353332" stroke-width="1.3" />
<line x1="680.3" y1="666.2" x2="680.3" y2="1080.7" stroke="#353332" stroke-width="1.1" />
<line x1="682.7" y1="666.2" x2="682.7" y2="1081.8" stroke="#353332" stroke-width="1.8" />
<line x1="334.6" y1="1081.2" x2="338.8" y2="1081.2" stroke="#353332" stroke-width="1.5" />
<line x1="680.2" y1="1081.2" x2="683.5" y2="1081.2" stroke="#353332" stroke-width="1.5" />
<line x1="657.5" y1="735.7" x2="676" y2="735.7" stroke="#555" stroke-width="0.8" />
<line x1="672.8" y1="738" x2="672.8" y2="768" stroke="#444" stroke-width="0.8" />
<polygon points="672.8,736.4 670.7,748 674.9,748" fill="#111" stroke="none" stroke-width="0" />
<polygon points="672.8,769.8 670.7,758.2 674.9,758.2" fill="#111" stroke="none" stroke-width="0" />
<text transform="translate(666.4,765.6) rotate(-90)" font-size="21.3" fill="#2a2420" textLength="21.6" lengthAdjust="spacingAndGlyphs">89</text>
<line x1="705.3" y1="667.1" x2="741.9" y2="667.1" stroke="#999" stroke-width="1.0" />
<line x1="705.3" y1="1082.3" x2="741.9" y2="1082.3" stroke="#999" stroke-width="1.0" />
<line x1="736.6" y1="690" x2="736.6" y2="1059" stroke="#8a8a8a" stroke-width="0.9" />
<polygon points="736.6,667.2 732.2,693 736.6,690.8 741,693" fill="#111" stroke="none" stroke-width="0" />
<polygon points="736.6,1081.8 732.2,1056 736.6,1058.2 741,1056" fill="#111" stroke="none" stroke-width="0" />
<text transform="translate(729,960.6) rotate(-90)" font-size="19.5" font-weight="bold" fill="#1d1d22" textLength="191.4" lengthAdjust="spacingAndGlyphs">1070 (Fe-Zn version)</text>
<text transform="translate(708,960.6) rotate(-90)" font-size="19.5" font-weight="bold" fill="#b7c3cb" textLength="162.4" lengthAdjust="spacingAndGlyphs">1090 (AL version)</text>
<text x="524.8" y="1106" font-size="17.6" fill="#3a8ed8" text-anchor="middle" textLength="156" lengthAdjust="spacingAndGlyphs" >1 SEGMENT HEIGHT</text>
</g>
<g id="p4">
<clipPath id="p4c"><rect x="839.5" y="636" width="598" height="485.6"/></clipPath>
<g clip-path="url(#p4c)">
<line x1="874.4" y1="649.1" x2="874.4" y2="757" stroke="#2e2e2e" stroke-width="1.1" />
<line x1="882.95" y1="649.1" x2="882.95" y2="760.4" stroke="#2e2e2e" stroke-width="1.6" />
<line x1="891.5" y1="649.1" x2="891.5" y2="765.9" stroke="#2e2e2e" stroke-width="1.1" />
<line x1="874.4" y1="786.1" x2="874.4" y2="874.4" stroke="#2e2e2e" stroke-width="1.1" />
<line x1="882.95" y1="789.2" x2="882.95" y2="874.4" stroke="#2e2e2e" stroke-width="1.6" />
<line x1="891.5" y1="795.1" x2="891.5" y2="874.4" stroke="#2e2e2e" stroke-width="1.1" />
<line x1="873.9" y1="649.1" x2="892" y2="649.1" stroke="#2e2e2e" stroke-width="1.1" />
<line x1="873.9" y1="874.4" x2="892" y2="874.4" stroke="#2e2e2e" stroke-width="1.1" />
<path d="M853.1,765 c8.63,-5.2 18.23,-6.4 28.78,0.6 s16.31,8.6 25.62,3.4" fill="none" stroke="#3a3a3a" stroke-width="1.4" />
<path d="M853.1,788.2 c8.63,-5.2 18.23,-6.4 28.78,0.6 s16.31,8.6 25.62,3.4" fill="none" stroke="#3a3a3a" stroke-width="1.4" />
<line x1="881" y1="767.7" x2="881" y2="782" stroke="#2e2e2e" stroke-width="1.4" stroke-dasharray="4.7 4.8"/>
<path d="M869.8,667.8 V671.8 H860.4 V675.9 H896.3 V674.3 h0.9 V672.9 h0.9 V671.3 h0.8 V667.8 Z" fill="#fff" stroke="#2e2e2e" stroke-width="1.15" />
<line x1="869.3" y1="667.8" x2="905.7" y2="667.8" stroke="#2e2e2e" stroke-width="1.35" />
<line x1="860" y1="675.9" x2="896.7" y2="675.9" stroke="#2e2e2e" stroke-width="1.55" />
<ellipse cx="880.9" cy="671.85" rx="1.7" ry="1.55" fill="none" stroke="#2e2e2e" stroke-width="0.95"/>
<ellipse cx="885" cy="671.85" rx="1.7" ry="1.55" fill="none" stroke="#2e2e2e" stroke-width="0.95"/>
<path d="M869.8,703.7 V707.7 H860.4 V711.8 H896.3 V710.2 h0.9 V708.8 h0.9 V707.2 h0.8 V703.7 Z" fill="#fff" stroke="#2e2e2e" stroke-width="1.15" />
<line x1="869.3" y1="703.7" x2="905.7" y2="703.7" stroke="#2e2e2e" stroke-width="1.35" />
<line x1="860" y1="711.8" x2="896.7" y2="711.8" stroke="#2e2e2e" stroke-width="1.55" />
<ellipse cx="880.9" cy="707.75" rx="1.7" ry="1.55" fill="none" stroke="#2e2e2e" stroke-width="0.95"/>
<ellipse cx="885" cy="707.75" rx="1.7" ry="1.55" fill="none" stroke="#2e2e2e" stroke-width="0.95"/>
<path d="M869.8,739.6 V743.6 H860.4 V747.7 H896.3 V746.1 h0.9 V744.7 h0.9 V743.1 h0.8 V739.6 Z" fill="#fff" stroke="#2e2e2e" stroke-width="1.15" />
<line x1="869.3" y1="739.6" x2="905.7" y2="739.6" stroke="#2e2e2e" stroke-width="1.35" />
<line x1="860" y1="747.7" x2="896.7" y2="747.7" stroke="#2e2e2e" stroke-width="1.55" />
<ellipse cx="880.9" cy="743.65" rx="1.7" ry="1.55" fill="none" stroke="#2e2e2e" stroke-width="0.95"/>
<ellipse cx="885" cy="743.65" rx="1.7" ry="1.55" fill="none" stroke="#2e2e2e" stroke-width="0.95"/>
<path d="M869.8,811.3 V815.3 H860.4 V819.4 H896.3 V817.8 h0.9 V816.4 h0.9 V814.8 h0.8 V811.3 Z" fill="#fff" stroke="#2e2e2e" stroke-width="1.15" />
<line x1="869.3" y1="811.3" x2="905.7" y2="811.3" stroke="#2e2e2e" stroke-width="1.35" />
<line x1="860" y1="819.4" x2="896.7" y2="819.4" stroke="#2e2e2e" stroke-width="1.55" />
<ellipse cx="880.9" cy="815.35" rx="1.7" ry="1.55" fill="none" stroke="#2e2e2e" stroke-width="0.95"/>
<ellipse cx="885" cy="815.35" rx="1.7" ry="1.55" fill="none" stroke="#2e2e2e" stroke-width="0.95"/>
<path d="M891.6,721.2 L903,714.9 Q903.8,714.4 903.7,713.6 L903.6,709.9" fill="none" stroke="#2e2e2e" stroke-width="1.1" />
<path d="M891.6,728.1 L907.4,717.2 Q911,714.5 911,710.7 L910.7,705.5" fill="none" stroke="#2e2e2e" stroke-width="1.1" />
<line x1="903.2" y1="709.7" x2="918" y2="701.4" stroke="#2e2e2e" stroke-width="1.9" />
<path d="M914,707.7 Q923.2,721.1 917.6,735.1" fill="none" stroke="#c4c4c4" stroke-width="0.7" />
<circle cx="889.5" cy="659.3" r="1.2" fill="#fff" stroke="#333" stroke-width="0.95"/>
<circle cx="876.3" cy="681.7" r="1.2" fill="#333" stroke="#333" stroke-width="0.95"/>
<circle cx="889.5" cy="841.7" r="1.2" fill="#fff" stroke="#333" stroke-width="0.95"/>
<circle cx="876.3" cy="861.8" r="1.2" fill="#333" stroke="#333" stroke-width="0.95"/>
<line x1="874.4" y1="907.5" x2="874.4" y2="1017" stroke="#2e2e2e" stroke-width="1.1" />
<line x1="882.95" y1="907.5" x2="882.95" y2="1020.4" stroke="#2e2e2e" stroke-width="1.6" />
<line x1="891.5" y1="907.5" x2="891.5" y2="1025.9" stroke="#2e2e2e" stroke-width="1.1" />
<line x1="874.4" y1="1047" x2="874.4" y2="1130" stroke="#2e2e2e" stroke-width="1.1" />
<line x1="882.95" y1="1050.1" x2="882.95" y2="1130" stroke="#2e2e2e" stroke-width="1.6" />
<line x1="891.5" y1="1056" x2="891.5" y2="1130" stroke="#2e2e2e" stroke-width="1.1" />
<line x1="873.9" y1="907.5" x2="892" y2="907.5" stroke="#2e2e2e" stroke-width="1.1" />
<path d="M853.1,1025 c8.63,-5.2 18.23,-6.4 28.78,0.6 s16.31,8.6 25.62,3.4" fill="none" stroke="#3a3a3a" stroke-width="1.4" />
<path d="M853.1,1049.1 c8.63,-5.2 18.23,-6.4 28.78,0.6 s16.31,8.6 25.62,3.4" fill="none" stroke="#3a3a3a" stroke-width="1.4" />
<line x1="881" y1="1027.7" x2="881" y2="1042" stroke="#2e2e2e" stroke-width="1.4" stroke-dasharray="4.7 4.8"/>
<path d="M869.8,961.9 V965.9 H860.4 V970 H896.3 V968.4 h0.9 V967 h0.9 V965.4 h0.8 V961.9 Z" fill="#fff" stroke="#2e2e2e" stroke-width="1.15" />
<line x1="869.3" y1="961.9" x2="905.7" y2="961.9" stroke="#2e2e2e" stroke-width="1.35" />
<line x1="860" y1="970" x2="896.7" y2="970" stroke="#2e2e2e" stroke-width="1.55" />
<ellipse cx="880.9" cy="965.95" rx="1.7" ry="1.55" fill="none" stroke="#2e2e2e" stroke-width="0.95"/>
<ellipse cx="885" cy="965.95" rx="1.7" ry="1.55" fill="none" stroke="#2e2e2e" stroke-width="0.95"/>
<path d="M869.8,998.2 V1002.2 H860.4 V1006.3 H896.3 V1004.7 h0.9 V1003.3 h0.9 V1001.7 h0.8 V998.2 Z" fill="#fff" stroke="#2e2e2e" stroke-width="1.15" />
<line x1="869.3" y1="998.2" x2="905.7" y2="998.2" stroke="#2e2e2e" stroke-width="1.35" />
<line x1="860" y1="1006.3" x2="896.7" y2="1006.3" stroke="#2e2e2e" stroke-width="1.55" />
<ellipse cx="880.9" cy="1002.25" rx="1.7" ry="1.55" fill="none" stroke="#2e2e2e" stroke-width="0.95"/>
<ellipse cx="885" cy="1002.25" rx="1.7" ry="1.55" fill="none" stroke="#2e2e2e" stroke-width="0.95"/>
<path d="M869.8,1070.2 V1074.2 H860.4 V1078.3 H896.3 V1076.7 h0.9 V1075.3 h0.9 V1073.7 h0.8 V1070.2 Z" fill="#fff" stroke="#2e2e2e" stroke-width="1.15" />
<line x1="869.3" y1="1070.2" x2="905.7" y2="1070.2" stroke="#2e2e2e" stroke-width="1.35" />
<line x1="860" y1="1078.3" x2="896.7" y2="1078.3" stroke="#2e2e2e" stroke-width="1.55" />
<ellipse cx="880.9" cy="1074.25" rx="1.7" ry="1.55" fill="none" stroke="#2e2e2e" stroke-width="0.95"/>
<ellipse cx="885" cy="1074.25" rx="1.7" ry="1.55" fill="none" stroke="#2e2e2e" stroke-width="0.95"/>
<path d="M891.6,979.4 L903,973.1 Q903.8,972.6 903.7,971.8 L903.6,968.1" fill="none" stroke="#2e2e2e" stroke-width="1.1" />
<path d="M891.6,986.3 L907.4,975.4 Q911,972.7 911,968.9 L910.7,963.7" fill="none" stroke="#2e2e2e" stroke-width="1.1" />
<line x1="903.2" y1="967.9" x2="918" y2="959.6" stroke="#2e2e2e" stroke-width="1.9" />
<path d="M914,965.9 Q923.2,979.3 917.6,993.3" fill="none" stroke="#c4c4c4" stroke-width="0.7" />
<circle cx="889.5" cy="917.9" r="1.2" fill="#fff" stroke="#333" stroke-width="0.95"/>
<circle cx="876.3" cy="940.3" r="1.2" fill="#333" stroke="#333" stroke-width="0.95"/>
<circle cx="889.5" cy="1100" r="1.2" fill="#fff" stroke="#333" stroke-width="0.95"/>
<circle cx="876.3" cy="1120.4" r="1.2" fill="#333" stroke="#333" stroke-width="0.95"/>
</g>
<rect x="1039.4" y="700.3" width="170.6" height="344.23" fill="#fff" stroke="none" stroke-width="0" />
<rect x="1039.4" y="700.3" width="8.1" height="344.23" fill="#d9d8d6" stroke="none" stroke-width="0" />
<rect x="1030.2" y="700.3" width="9" height="344.9" fill="#a09f9f" stroke="none" stroke-width="0" />
<line x1="1039.4" y1="700.3" x2="1210" y2="700.3" stroke="#5c5c5c" stroke-width="1.2" />
<line x1="1039.4" y1="715.95" x2="1210" y2="715.95" stroke="#5c5c5c" stroke-width="1.2" />
<line x1="1039.4" y1="731.59" x2="1210" y2="731.59" stroke="#5c5c5c" stroke-width="1.2" />
<line x1="1039.4" y1="747.24" x2="1210" y2="747.24" stroke="#5c5c5c" stroke-width="1.2" />
<line x1="1039.4" y1="762.89" x2="1210" y2="762.89" stroke="#5c5c5c" stroke-width="1.2" />
<line x1="1039.4" y1="778.53" x2="1210" y2="778.53" stroke="#5c5c5c" stroke-width="1.2" />
<line x1="1039.4" y1="794.18" x2="1210" y2="794.18" stroke="#5c5c5c" stroke-width="1.2" />
<line x1="1039.4" y1="809.83" x2="1210" y2="809.83" stroke="#5c5c5c" stroke-width="1.2" />
<line x1="1039.4" y1="825.48" x2="1210" y2="825.48" stroke="#5c5c5c" stroke-width="1.2" />
<line x1="1039.4" y1="841.12" x2="1210" y2="841.12" stroke="#5c5c5c" stroke-width="1.2" />
<line x1="1039.4" y1="856.77" x2="1210" y2="856.77" stroke="#5c5c5c" stroke-width="1.2" />
<line x1="1039.4" y1="872.42" x2="1210" y2="872.42" stroke="#444" stroke-width="1.3" />
<line x1="1039.4" y1="888.06" x2="1210" y2="888.06" stroke="#5c5c5c" stroke-width="1.2" />
<line x1="1039.4" y1="903.71" x2="1210" y2="903.71" stroke="#5c5c5c" stroke-width="1.2" />
<line x1="1039.4" y1="919.36" x2="1210" y2="919.36" stroke="#5c5c5c" stroke-width="1.2" />
<line x1="1039.4" y1="935" x2="1210" y2="935" stroke="#5c5c5c" stroke-width="1.2" />
<line x1="1039.4" y1="950.65" x2="1210" y2="950.65" stroke="#5c5c5c" stroke-width="1.2" />
<line x1="1039.4" y1="966.3" x2="1210" y2="966.3" stroke="#5c5c5c" stroke-width="1.2" />
<line x1="1039.4" y1="981.95" x2="1210" y2="981.95" stroke="#5c5c5c" stroke-width="1.2" />
<line x1="1039.4" y1="997.59" x2="1210" y2="997.59" stroke="#5c5c5c" stroke-width="1.2" />
<line x1="1039.4" y1="1013.24" x2="1210" y2="1013.24" stroke="#5c5c5c" stroke-width="1.2" />
<line x1="1039.4" y1="1028.89" x2="1210" y2="1028.89" stroke="#5c5c5c" stroke-width="1.2" />
<line x1="1039.4" y1="1044.53" x2="1210" y2="1044.53" stroke="#aaa" stroke-width="1.0" />
<line x1="1047.5" y1="700.3" x2="1047.5" y2="1044.53" stroke="#8a8a8a" stroke-width="0.9" />
<line x1="1039.5" y1="700.3" x2="1039.5" y2="1045.4" stroke="#444" stroke-width="1.5" />
<line x1="1030.6" y1="700.3" x2="1030.6" y2="1045.4" stroke="#333" stroke-width="2.0" />
<line x1="1029.8" y1="700.3" x2="1039.8" y2="700.3" stroke="#333" stroke-width="1.2" />
<line x1="1029.8" y1="1045.3" x2="1048" y2="1045.3" stroke="#333" stroke-width="1.2" />
<line x1="1210" y1="700.3" x2="1210" y2="1044.53" stroke="#666" stroke-width="0.9" />
<line x1="1030.2" y1="872.3" x2="1039.4" y2="872.3" stroke="#2a2a2a" stroke-width="1.5" />
<path d="M1012.8,1058 V663 H1030.2 V700.3" fill="none" stroke="#333" stroke-width="1.1" />
<line x1="1030.2" y1="1045" x2="1030.2" y2="1058" stroke="#333" stroke-width="1.0" />
<line x1="1000.6" y1="1059" x2="1237.6" y2="1059" stroke="#111" stroke-width="2.6" />
<line x1="1237" y1="1059.6" x2="1315.6" y2="1059.6" stroke="#333" stroke-width="0.9" />
<line x1="1194.2" y1="1044.6" x2="1315.6" y2="1044.6" stroke="#333" stroke-width="0.9" />
<line x1="1296" y1="1013.5" x2="1296" y2="1036" stroke="#333" stroke-width="0.9" />
<line x1="1296" y1="1068" x2="1296" y2="1090.4" stroke="#333" stroke-width="0.9" />
<polygon points="1296,1044.4 1290.2,1033 1301.8,1033" fill="#111" stroke="none" stroke-width="0" />
<polygon points="1296,1059.8 1290.2,1071.2 1301.8,1071.2" fill="#111" stroke="none" stroke-width="0" />
<text x="1329" y="1059.6" font-size="23" fill="#222" textLength="47.6" lengthAdjust="spacingAndGlyphs" >1cm</text>
<line x1="980.5" y1="872.2" x2="1030" y2="872.2" stroke="#222" stroke-width="1.1" stroke-dasharray="4.6 3.6"/>
<path d="M990.5,825.9 H1000.8 V848.4 H1005.4 L995.6,870.6 L986.4,848.4 H990.5 Z" fill="#fff" stroke="#666" stroke-width="0.8" />
<path d="M991.3,919 H1001.2 V897 H1005.6 L995.6,874.4 L986.6,897 H991.3 Z" fill="#fff" stroke="#666" stroke-width="0.8" />
<text x="1115.2" y="1084.5" font-size="16.8" fill="#3a8ed8" text-anchor="middle" textLength="151.5" lengthAdjust="spacingAndGlyphs" >MODULAR SYSTEM</text>
<text x="1115" y="1105.9" font-size="16.8" fill="#3a8ed8" text-anchor="middle" textLength="181.5" lengthAdjust="spacingAndGlyphs" >- SEGMENTS STACKING</text>
</g>
</svg>
</body></html>
